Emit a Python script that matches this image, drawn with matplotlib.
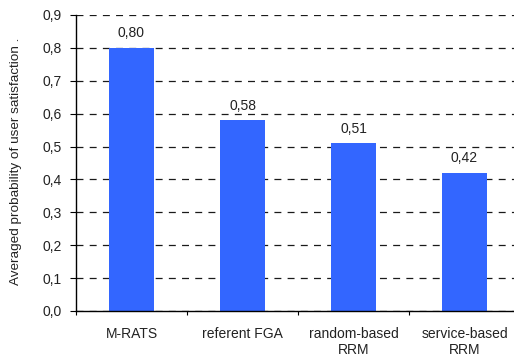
import matplotlib
matplotlib.use("Agg")
import matplotlib.pyplot as plt
from matplotlib.ticker import FuncFormatter, FixedLocator
import numpy as np

categories = ["M-RATS", "referent FGA", "random-based\nRRM", "service-based\nRRM"]
values = [0.80, 0.58, 0.51, 0.42]
value_labels = ["0,80", "0,58", "0,51", "0,42"]
y_ticks = [0.0, 0.1, 0.2, 0.3, 0.4, 0.5, 0.6, 0.7, 0.8, 0.9]

plt.rcParams["font.family"] = ["Liberation Sans", "DejaVu Sans"]
plt.rcParams["lines.scale_dashes"] = False

FS = 10

W, H = 514, 356
fig = plt.figure(figsize=(W / 100, H / 100), dpi=100)
# axes extends slightly past the right edge of the figure
left, right = 76, 520
bottom, top = 311, 15
ax = fig.add_axes([left / W, 1 - bottom / H, (right - left) / W, (bottom - top) / H])

x = np.arange(len(categories))
ax.bar(x, values, width=0.405, color="#3366FF", zorder=3)

for xi, v, lab in zip(x, values, value_labels):
    ax.annotate(lab, (xi, v), xytext=(0, 5.5), textcoords="offset points",
                ha="center", va="bottom", fontsize=FS, color="#222222")

ax.set_xlim(-0.5, len(categories) - 0.5)
ax.set_ylim(0, 0.9)
ax.set_yticks(y_ticks)
ax.yaxis.set_major_formatter(FuncFormatter(lambda v, p: f"{v:.1f}".replace(".", ",")))

ax.grid(axis="y", color="#1a1a1a", linewidth=0.9, dashes=(5, 4.5), zorder=1)
ax.set_axisbelow(True)

# category boundaries as ticks, labels centred under bars
ax.xaxis.set_major_locator(FixedLocator(np.arange(-0.5, len(categories), 1.0)))
ax.xaxis.set_major_formatter(FuncFormatter(lambda v, p: ""))
ax.xaxis.set_minor_locator(FixedLocator(x))
ax.set_xticklabels(categories, minor=True, linespacing=1.2)
ax.tick_params(axis="x", which="minor", length=0, pad=11.5, labelsize=FS, labelcolor="#222222")
ax.tick_params(axis="x", which="major", length=3, width=0.8, direction="out")
ax.tick_params(axis="y", length=4, width=0.8, pad=6, labelsize=FS, labelcolor="#222222")

for s in ["top", "right"]:
    ax.spines[s].set_visible(False)
for s in ["left", "bottom"]:
    ax.spines[s].set_linewidth(1.0)
    ax.spines[s].set_zorder(4)

ax.set_ylabel("Averaged probability of user satisfaction .", fontsize=9.7, color="#222222")
ax.yaxis.set_label_coords(-54 / (right - left), 0.507)

fig.savefig("out.png", dpi=100)
